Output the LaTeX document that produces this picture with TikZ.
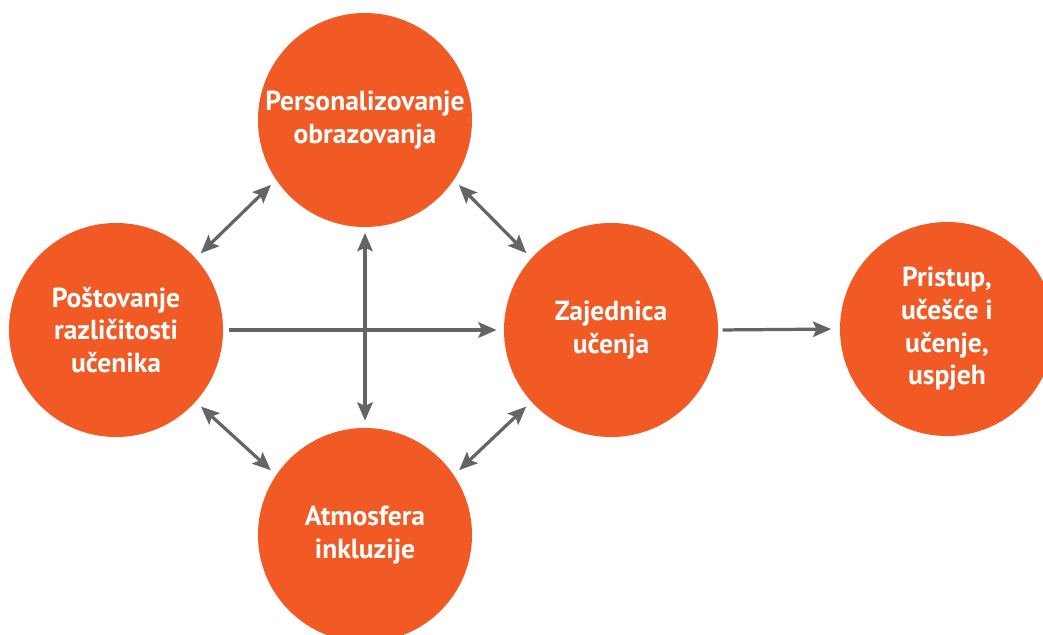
\documentclass[tikz,border=0pt]{standalone}
\usepackage{fontspec}
\setmainfont{PT Sans}
\usetikzlibrary{arrows.meta}
\definecolor{topicorange}{HTML}{F15A24}
\definecolor{linkgray}{HTML}{646567}
\tikzset{
  topic/.style={circle, fill=topicorange, minimum size=5.35cm, inner sep=0pt,
    text=white, align=center, font=\bfseries\fontsize{19.6}{23.2}\selectfont},
  link/.style={draw=linkgray, line width=2.3pt,
    -{Stealth[length=13pt,width=11pt,inset=2.5pt]}},
  twoway/.style={link,
    {Stealth[length=13pt,width=11pt,inset=2.5pt]}-{Stealth[length=13pt,width=11pt,inset=2.5pt]}}
}
\begin{document}
\begin{tikzpicture}[x=0.025cm, y=-0.025cm]
            \clip (0,0) rectangle (1043,635);
            % circles
            \node[topic] (pers) at (365,120) {Personalizovanje\\obrazovanja};
            \node[topic] (post) at (116,330) {Poštovanje\\različitosti\\učenika};
            \node[topic] (zaj) at (611,330) {Zajednica\\učenja};
            \node[topic] (atm) at (365,535) {Atmosfera\\inkluzije};
            \node[topic] (prist) at (947,329) {Pristup,\\učešće i\\učenje,\\uspjeh};
            % two-way arrows round the middle
            \draw[twoway, shorten <=5pt, shorten >=5pt] (pers.214) -- (post.42);
            \draw[twoway, shorten <=5pt, shorten >=5pt] (pers.326) -- (zaj.138);
            \draw[twoway, shorten <=5pt, shorten >=5pt] (atm.146) -- (post.318);
            \draw[twoway, shorten <=5pt, shorten >=5pt] (atm.34) -- (zaj.222);
            \draw[twoway, shorten <=4pt, shorten >=5pt] (pers.south) -- (atm.north);
            % one-way arrows
            \draw[link, shorten <=4pt, shorten >=5pt] (post.east) -- (zaj.west);
            \draw[link, shorten <=3pt, shorten >=6pt] (zaj.east) -- (prist.west);
\end{tikzpicture}
\end{document}
